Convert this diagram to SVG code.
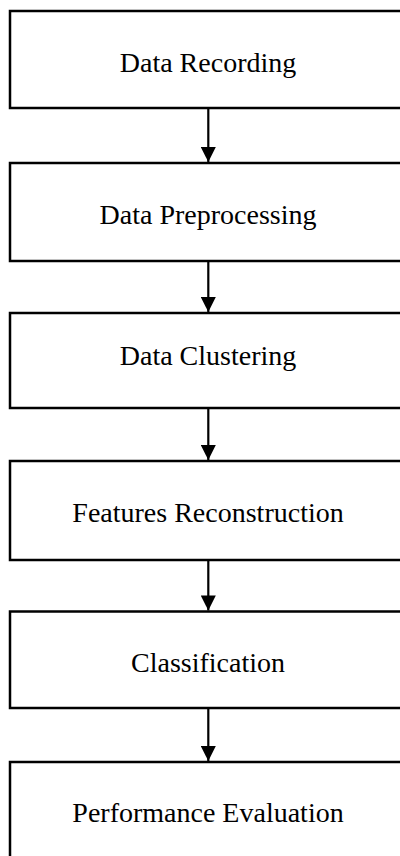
<svg xmlns="http://www.w3.org/2000/svg" width="400" height="856" viewBox="0 0 400 856">
<style>
.box{fill:#fff;stroke:#000;stroke-width:2.5}
.lbl{font-family:"Liberation Serif","Times New Roman",serif;font-size:28px;fill:#000;text-anchor:middle}
.conn{stroke:#000;stroke-width:2.2;fill:none}
</style>
<defs>
<marker id="ah" markerUnits="userSpaceOnUse" markerWidth="16" markerHeight="15" refX="15" refY="7.5" orient="auto" viewBox="0 0 15 15">
<path d="M0,0 L15,7.5 L0,15 Z" fill="#000"/>
</marker>
</defs>
<rect width="400" height="856" fill="#fff"/>
<g id="n1"><rect class="box" x="10" y="11" width="400" height="97"/><text class="lbl" x="208" y="72">Data Recording</text></g>
<g id="n2"><rect class="box" x="10" y="163" width="400" height="98"/><text class="lbl" x="208" y="224">Data Preprocessing</text></g>
<g id="n3"><rect class="box" x="10" y="313" width="400" height="95"/><text class="lbl" x="208" y="365">Data Clustering</text></g>
<g id="n4"><rect class="box" x="10" y="461" width="400" height="99"/><text class="lbl" x="208" y="522">Features Reconstruction</text></g>
<g id="n5"><rect class="box" x="10" y="611.5" width="400" height="96.5"/><text class="lbl" x="208" y="672">Classification</text></g>
<g id="n6"><rect class="box" x="10" y="762" width="400" height="110"/><text class="lbl" x="208" y="822">Performance Evaluation</text></g>
<g id="connectors">
<line class="conn" x1="208.3" y1="108" x2="208.3" y2="162" marker-end="url(#ah)"/>
<line class="conn" x1="208.3" y1="261" x2="208.3" y2="312" marker-end="url(#ah)"/>
<line class="conn" x1="208.3" y1="408" x2="208.3" y2="460" marker-end="url(#ah)"/>
<line class="conn" x1="208.3" y1="560" x2="208.3" y2="610.5" marker-end="url(#ah)"/>
<line class="conn" x1="208.3" y1="708" x2="208.3" y2="761" marker-end="url(#ah)"/>
</g>
</svg>
